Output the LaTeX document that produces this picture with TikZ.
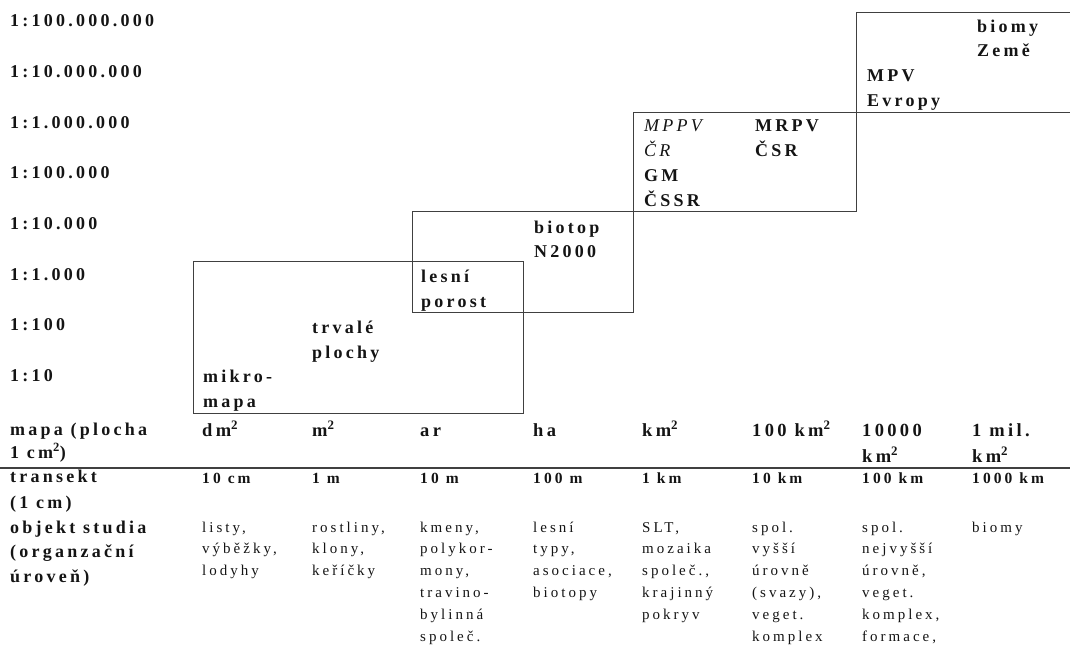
\documentclass[tikz,border=0pt]{standalone}
\usepackage{fontspec}
\setmainfont{Liberation Serif}
\newfontfamily\widefont[LetterSpace=18]{Liberation Serif}
\newfontfamily\thinfont[LetterSpace=20]{Liberation Serif}

\begin{document}
\begin{tikzpicture}[
  x=1pt,y=-1pt,
  every node/.style={inner sep=0pt,anchor=base west,align=left,text=black!92},
  scalelbl/.style={font=\widefont\bfseries\fontsize{18}{25}\selectfont},
  boxtxt/.style={font=\widefont\bfseries\fontsize{18}{25}\selectfont},
  rowhead/.style={font=\widefont\bfseries\fontsize{18}{24.5}\selectfont},
  unit/.style={font=\widefont\bfseries\fontsize{18.5}{26}\selectfont},
  lenval/.style={font=\thinfont\bfseries\fontsize{15.5}{20}\selectfont},
  objval/.style={font=\thinfont\fontsize{15}{21.8}\selectfont},
  frame/.style={draw=black!75,line width=0.9pt},
  rule/.style={draw=black!75,line width=1.5pt}
]
  \useasboundingbox (0,0) rectangle (1070,647);

  \node[scalelbl] (sc8) at (10,27) {1:100.000.000};
  \node[scalelbl] (sc7) at (10,77.6) {1:10.000.000};
  \node[scalelbl] (sc6) at (10,128.2) {1:1.000.000};
  \node[scalelbl] (sc5) at (10,178.8) {1:100.000};
  \node[scalelbl] (sc4) at (10,229.4) {1:10.000};
  \node[scalelbl] (sc3) at (10,280) {1:1.000};
  \node[scalelbl] (sc2) at (10,330.6) {1:100};
  \node[scalelbl] (sc1) at (10,381.2) {1:10};

  \draw[frame] (193,261) rectangle (523,413);
  \draw[frame] (412,211) rectangle (633,312);
  \draw[frame] (633,112) rectangle (856,211);
  \draw[frame] (1071,12) -- (856,12) -- (856,112) -- (1071,112);

  % multi-line nodes sit on the baseline of their last line
  \node[boxtxt] (mikro) at (203,407) {mikro-\\mapa};
  \node[boxtxt] (trvale) at (312,358) {trvalé\\plochy};
  \node[boxtxt] (lesni) at (421,307) {lesní\\porost};
  \node[boxtxt] (biotop) at (534,257) {biotop\\[-1pt]N2000};
  \node[boxtxt] (mppv) at (644,207) {\itshape\mdseries MPPV\\\itshape\mdseries ČR\\GM\\ČSSR};
  \node[boxtxt] (mrpv) at (755,157) {MRPV\\ČSR};
  \node[boxtxt] (mpv) at (867,107) {MPV\\Evropy};
  \node[boxtxt] (biomy) at (977,57) {biomy\\[-1pt]Země};

  \node[rowhead] (hmapa) at (10,458) {mapa (plocha\\[-1.5pt]1 cm\textsuperscript{2})};
  \node[unit] (udm) at (202,436) {dm\textsuperscript{2}};
  \node[unit] (um) at (312,436) {m\textsuperscript{2}};
  \node[unit] (uar) at (420,436) {ar};
  \node[unit] (uha) at (533,436) {ha};
  \node[unit] (ukm) at (642,436) {km\textsuperscript{2}};
  \node[unit] (ukmc) at (752,436) {100 km\textsuperscript{2}};
  \node[unit] (ukmt) at (862,462) {10000\\km\textsuperscript{2}};
  \node[unit] (ukmm) at (972,462) {1 mil.\\km\textsuperscript{2}};

  \draw[rule] (0,468) -- (1070,468);

  \node[rowhead] (htrans) at (10,508) {transekt\\[1.5pt](1 cm)};
  \node[lenval] (tcm) at (202,483) {10 cm};
  \node[lenval] (tm) at (312,483) {1 m};
  \node[lenval] (tdam) at (420,483) {10 m};
  \node[lenval] (thm) at (533,483) {100 m};
  \node[lenval] (tkm) at (642,483) {1 km};
  \node[lenval] (tdakm) at (752,483) {10 km};
  \node[lenval] (thkm) at (862,483) {100 km};
  \node[lenval] (tmkm) at (972,483) {1000 km};

  \node[rowhead] (hobj) at (10,582) {objekt studia\\(organzační\\úroveň)};
  \node[objval] (olisty) at (202,575.6) {listy,\\výběžky,\\lodyhy};
  \node[objval] (orostl) at (312,575.6) {rostliny,\\klony,\\keříčky};
  \node[objval] (okmeny) at (420,641) {kmeny,\\polykor-\\mony,\\travino-\\bylinná\\společ.};
  \node[objval] (olesni) at (533,597.4) {lesní\\typy,\\asociace,\\biotopy};
  \node[objval] (oslt) at (642,619.2) {SLT,\\mozaika\\společ.,\\krajinný\\pokryv};
  \node[objval] (ovyssi) at (752,641) {spol.\\vyšší\\úrovně\\(svazy),\\veget.\\komplex};
  \node[objval] (onejv) at (862,641) {spol.\\nejvyšší\\úrovně,\\veget.\\komplex,\\formace,};
  \node[objval] (obiomy) at (972,532) {biomy};
\end{tikzpicture}
\end{document}
